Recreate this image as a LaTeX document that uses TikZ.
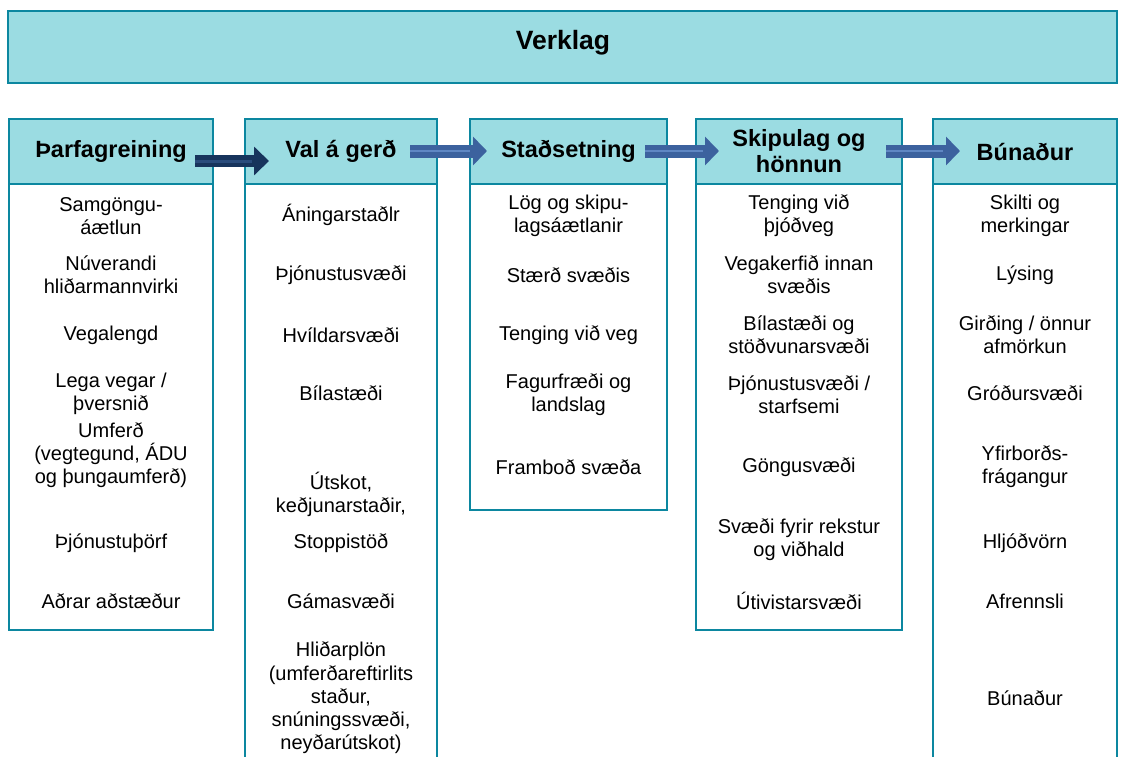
\documentclass[tikz,border=0pt]{standalone}
\usepackage{fontspec}
\setmainfont{Liberation Sans}
\usetikzlibrary{arrows.meta}
\definecolor{hdrfill}{RGB}{155,220,226}
\definecolor{teal}{RGB}{12,135,160}
\definecolor{navy}{RGB}{23,52,92}
\definecolor{navystripe}{RGB}{42,76,124}
\definecolor{midblue}{RGB}{60,98,158}
\definecolor{midstripe}{RGB}{95,135,195}
\tikzset{
  titlebox/.style={draw=teal, line width=2.5pt, fill=hdrfill},
  bodybox/.style={draw=teal, line width=2.2pt, fill=white},
  hdrbox/.style={draw=teal, line width=2.2pt, fill=hdrfill, inner sep=0pt, align=center,
     font=\fontsize{23.5}{26}\selectfont\bfseries, minimum height=65pt},
  item/.style={align=center, font=\fontsize{20}{23.2}\selectfont, inner sep=0pt},
  darkarrow/.style={draw=navy, line width=12pt, -{Triangle[width=28pt,length=15pt]}},
  darkstripe/.style={draw=navystripe, line width=3pt},
  bluearrow/.style={draw=midblue, line width=13pt, -{Triangle[width=28pt,length=14pt]}},
  bluestripe/.style={draw=midstripe, line width=2.5pt},
}
\begin{document}
\begin{tikzpicture}[x=1pt,y=-1pt]
\useasboundingbox (0,0) rectangle (1122,756);
% title
\draw[titlebox] (8,11) rectangle (1117,83);
\node[font=\fontsize{26.5}{30}\selectfont\bfseries] (title) at (563,43) {Verklag};
% column bodies
\draw[bodybox] (9,119) rectangle (213,630);
\draw[bodybox] (245,119) rectangle (437,790);
\draw[bodybox] (470,119) rectangle (667,510);
\draw[bodybox] (696,119) rectangle (902,630);
\draw[bodybox] (933,119) rectangle (1117,790);
% headers
\node[hdrbox, minimum width=204pt] (h1) at (111,151.5) {Þarfagreining};
\node[hdrbox, minimum width=192pt] (h2) at (341,151.5) {Val á gerð};
\node[hdrbox, minimum width=197pt] (h3) at (568.5,151.5) {Staðsetning};
\node[hdrbox, minimum width=206pt] (h4) at (799,151.5) {Skipulag og\\hönnun};
\node[hdrbox, minimum width=184pt] (h5) at (1025,151.5) {Búnaður};
% arrows
\coordinate (a1s) at (195,161); \coordinate (a1m) at (252,161); \coordinate (a1e) at (269,161);
\coordinate (a2s) at (410,151); \coordinate (a2m) at (470,151); \coordinate (a2e) at (487,151);
\coordinate (a3s) at (645,151); \coordinate (a3m) at (703,151); \coordinate (a3e) at (719,151);
\coordinate (a4s) at (886,151); \coordinate (a4m) at (943,151); \coordinate (a4e) at (960,151);
\draw[darkarrow] (a1s) -- (a1e); \draw[darkstripe] (a1s) -- (a1m);
\draw[bluearrow] (a2s) -- (a2e); \draw[bluestripe] (a2s) -- (a2m);
\draw[bluearrow] (a3s) -- (a3e); \draw[bluestripe] (a3s) -- (a3m);
\draw[bluearrow] (a4s) -- (a4e); \draw[bluestripe] (a4s) -- (a4m);
% column 1
\node[item] (c1a) at (111,216) {Samgöngu-\\áætlun};
\node[item] (c1b) at (111,275) {Núverandi\\hliðarmannvirki};
\node[item] (c1c) at (111,335) {Vegalengd};
\node[item] (c1d) at (111,394) {Lega vegar /\\þversnið};
\node[item] (c1e) at (111,455) {Umferð\\(vegtegund, ÁDU\\og þungaumferð)};
\node[item] (c1f) at (111,543) {Þjónustuþörf};
\node[item] (c1g) at (111,601) {Aðrar aðstæður};
% column 2
\node[item] (c2a) at (341,215) {Áningarstaðlr};
\node[item] (c2b) at (341,275) {Þjónustusvæði};
\node[item] (c2c) at (341,335) {Hvíldarsvæði};
\node[item] (c2d) at (341,393) {Bílastæði};
\node[item] (c2e) at (341,494) {Útskot,\\keðjunarstaðir,};
\node[item] (c2f) at (341,543) {Stoppistöð};
\node[item] (c2g) at (341,601) {Gámasvæði};
\node[item] (c2h) at (341,698) {Hliðarplön\\(umferðareftirlits\\staður,\\snúningssvæði,\\neyðarútskot)};
% column 3
\node[item] (c3a) at (568.5,216) {Lög og skipu-\\lagsáætlanir};
\node[item] (c3b) at (568.5,275) {Stærð svæðis};
\node[item] (c3c) at (568.5,335) {Tenging við veg};
\node[item] (c3d) at (568.5,395) {Fagurfræði og\\landslag};
\node[item] (c3e) at (568.5,467) {Framboð svæða};
% column 4
\node[item] (c4a) at (799,216) {Tenging við\\þjóðveg};
\node[item] (c4b) at (799,275) {Vegakerfið innan\\svæðis};
\node[item] (c4c) at (799,335) {Bílastæði og\\stöðvunarsvæði};
\node[item] (c4d) at (799,395) {Þjónustusvæði /\\starfsemi};
\node[item] (c4e) at (799,467) {Göngusvæði};
\node[item] (c4f) at (799,540) {Svæði fyrir rekstur\\og viðhald};
\node[item] (c4g) at (799,601) {Útivistarsvæði};
% column 5
\node[item] (c5a) at (1025,216) {Skilti og\\merkingar};
\node[item] (c5b) at (1025,275) {Lýsing};
\node[item] (c5c) at (1025,335) {Girðing / önnur\\afmörkun};
\node[item] (c5d) at (1025,393) {Gróðursvæði};
\node[item] (c5e) at (1025,467) {Yfirborðs-\\frágangur};
\node[item] (c5f) at (1025,543) {Hljóðvörn};
\node[item] (c5g) at (1025,601) {Afrennsli};
\node[item] (c5h) at (1025,698) {Búnaður};
\end{tikzpicture}
\end{document}
